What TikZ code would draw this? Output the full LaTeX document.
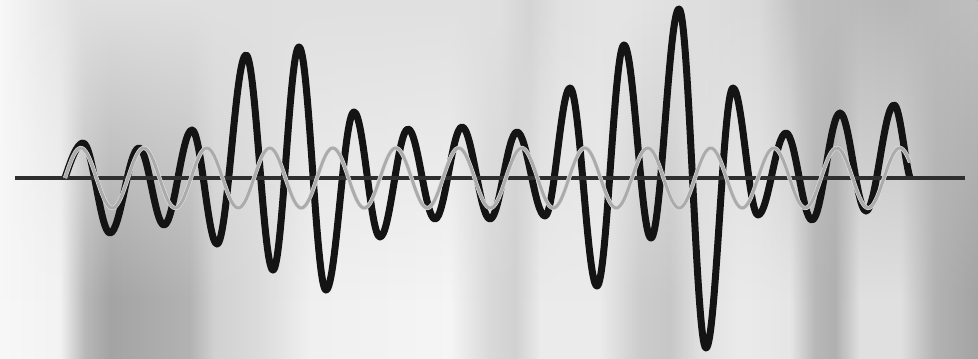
\documentclass[tikz,border=0pt]{standalone}
\usetikzlibrary{fadings}
\pgfdeclarehorizontalshading{bgbottom}{100bp}{%
color(0bp)=(black!3); color(25bp)=(black!3); color(28.07bp)=(black!5);
color(29.35bp)=(black!28); color(30.62bp)=(black!36); color(32.67bp)=(black!33);
color(34.71bp)=(black!30); color(35.99bp)=(black!18); color(38.29bp)=(black!14);
color(40.85bp)=(black!6); color(48bp)=(black!4); color(50.05bp)=(black!15);
color(51.33bp)=(black!18); color(52.61bp)=(black!8); color(55.67bp)=(black!8);
color(57.72bp)=(black!20); color(59.25bp)=(black!22); color(60.79bp)=(black!12);
color(62.83bp)=(black!8); color(65.38bp)=(black!10); color(66.66bp)=(black!28);
color(67.68bp)=(black!31); color(68.96bp)=(black!12); color(71.01bp)=(black!12);
color(72.8bp)=(black!30); color(75bp)=(black!36); color(100bp)=(black!36)}
\pgfdeclarehorizontalshading{bgtop}{100bp}{%
color(0bp)=(black!3); color(25bp)=(black!3); color(27.04bp)=(black!8);
color(29.09bp)=(black!12); color(50.56bp)=(black!12); color(52.09bp)=(black!17);
color(53.63bp)=(black!12); color(56.69bp)=(black!10); color(63.85bp)=(black!15);
color(65.9bp)=(black!25); color(71.01bp)=(black!28); color(75bp)=(black!25);
color(100bp)=(black!25)}
\tikzset{
  blackwave/.style={line width=7bp, black!92, line join=round},
  greywave/.style={line width=3bp, black!33},
  greyhalo/.style={line width=4.2bp, black!12},
  axisline/.style={line width=3.2bp, black!82}
}
\begin{document}
\begin{tikzpicture}[x=1bp,y=-1bp]
\useasboundingbox (0,0) rectangle (978,358);
% background
\shade[shading=bgbottom] (0,0) rectangle (978,358);
\shade[shading=bgtop, path fading=south] (0,0) rectangle (978,300);
% coordinates
\coordinate (axL) at (15,178);
\coordinate (axR) at (965,178);
\coordinate (bS) at (65,178);
\coordinate (bE) at (910,178);
% black wave
\draw[blackwave] (bS) .. controls (71,160) and (77,143) .. (83,143)
  foreach \x/\y [remember=\x as \px (initially 83)] in {
    110/233, 139/148, 164/225, 192/130, 217/244, 246/55, 273/270, 299/47,
    326/290, 354/112, 380/237, 408/129, 435/219, 462/127, 490/219, 517/132,
    545/216, 570/88, 597/286, 624/45, 651/238, 679/9, 706/348, 733/88,
    758/215, 786/133, 812/220, 840/113, 866/211, 894/105}
  { .. controls +({0.3634*(\x-\px)},0) and +({-0.3634*(\x-\px)},0) .. (\x,\y) }
  .. controls (900,105) and (904.5,160) .. (bE);
% axis
\draw[axisline] (axL) -- (axR);
% grey wave
\draw[greyhalo] plot[domain=65:910, samples=500] (\x, {178-30*sin(5.7142857*(\x-65))});
\draw[greywave] plot[domain=65:910, samples=500] (\x, {178-30*sin(5.7142857*(\x-65))});
\end{tikzpicture}
\end{document}
